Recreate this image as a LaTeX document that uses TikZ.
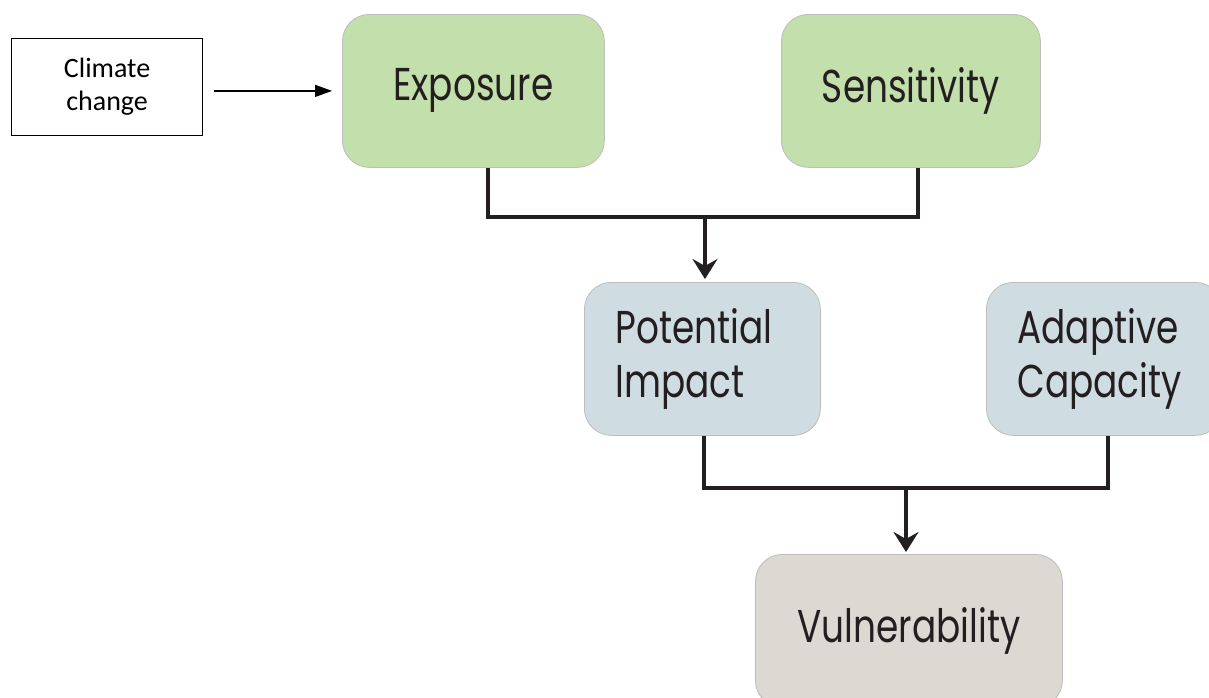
\documentclass[tikz,border=0pt]{standalone}
\usepackage{fontspec}
\usetikzlibrary{arrows.meta,positioning,calc}
\newfontfamily\boxfont[FakeStretch=0.78]{Poppins}
\newfontfamily\notefont{Carlito}

\begin{document}
\begin{tikzpicture}[x=1pt, y=-1pt,
    factor/.style={draw=borderColour, line width=0.8pt, rounded corners=27pt,
        minimum width=262pt, minimum height=153pt, inner sep=0pt, anchor=north west,
        text=textColour, font=\boxfont\fontsize{46}{54}\selectfont},
    twoline/.style={factor, minimum width=236pt, text width=174pt, align=left},
    link/.style={draw=linkColour, line width=4pt},
    linkarrow/.style={link, -{Stealth[length=20pt, width=25pt, inset=7pt]}}]
    % Define colours
    \definecolor{borderColour}{HTML}{BDBDBD}
    \definecolor{textColour}{HTML}{231F20}
    \definecolor{linkColour}{HTML}{231F20}
    \definecolor{greenFill}{HTML}{C3DFAB}
    \definecolor{blueFill}{HTML}{CFDDE2}
    \definecolor{greyFill}{HTML}{DCD8D2}

    % Fix page size
    \useasboundingbox[fill=white] (0,0) rectangle (1209,697);

    % Driver box
    \node[draw, line width=1.2pt, minimum width=191pt, minimum height=97pt,
        anchor=north west, align=center, font=\notefont\fontsize{28}{33}\selectfont]
        (climate) at (11,38) {Climate\\change};

    % Factor boxes
    \node[factor, fill=greenFill] (expo) at (342,14) {Exposure};
    \node[factor, fill=greenFill, minimum width=259pt] (sens) at (781,14) {Sensitivity};
    \node[twoline, fill=blueFill] (pot) at (584,282) {Potential\\Impact};
    \node[twoline, fill=blueFill] (adapt) at (986,282) {Adaptive\\Capacity};
    \node[factor, fill=greyFill, minimum width=307pt] (vuln) at (755,554) {Vulnerability};

    % Junctions
    \coordinate (j1) at (705,217);
    \coordinate (j2) at (906,488);

    % Climate change to exposure
    \draw[line width=1.3pt, -{Triangle[length=17pt, width=12pt]}]
        ($(climate.east |- expo.west)+(11,0)$) -- ($(expo.west)+(-10,0)$);

    % Exposure and sensitivity to potential impact
    \draw[link] ($(expo.south)+(15,0)$) |- (j1) -| ($(sens.south)+(7,0)$);
    \draw[linkarrow] (j1) -- ($(j1 |- pot.north)+(0,-3)$);

    % Potential impact and adaptive capacity to vulnerability
    \draw[link] ($(pot.south)+(2,0)$) |- (j2) -| ($(adapt.south)+(4,0)$);
    \draw[linkarrow] (j2) -- ($(j2 |- vuln.north)+(0,-2)$);

\end{tikzpicture}
\end{document}
